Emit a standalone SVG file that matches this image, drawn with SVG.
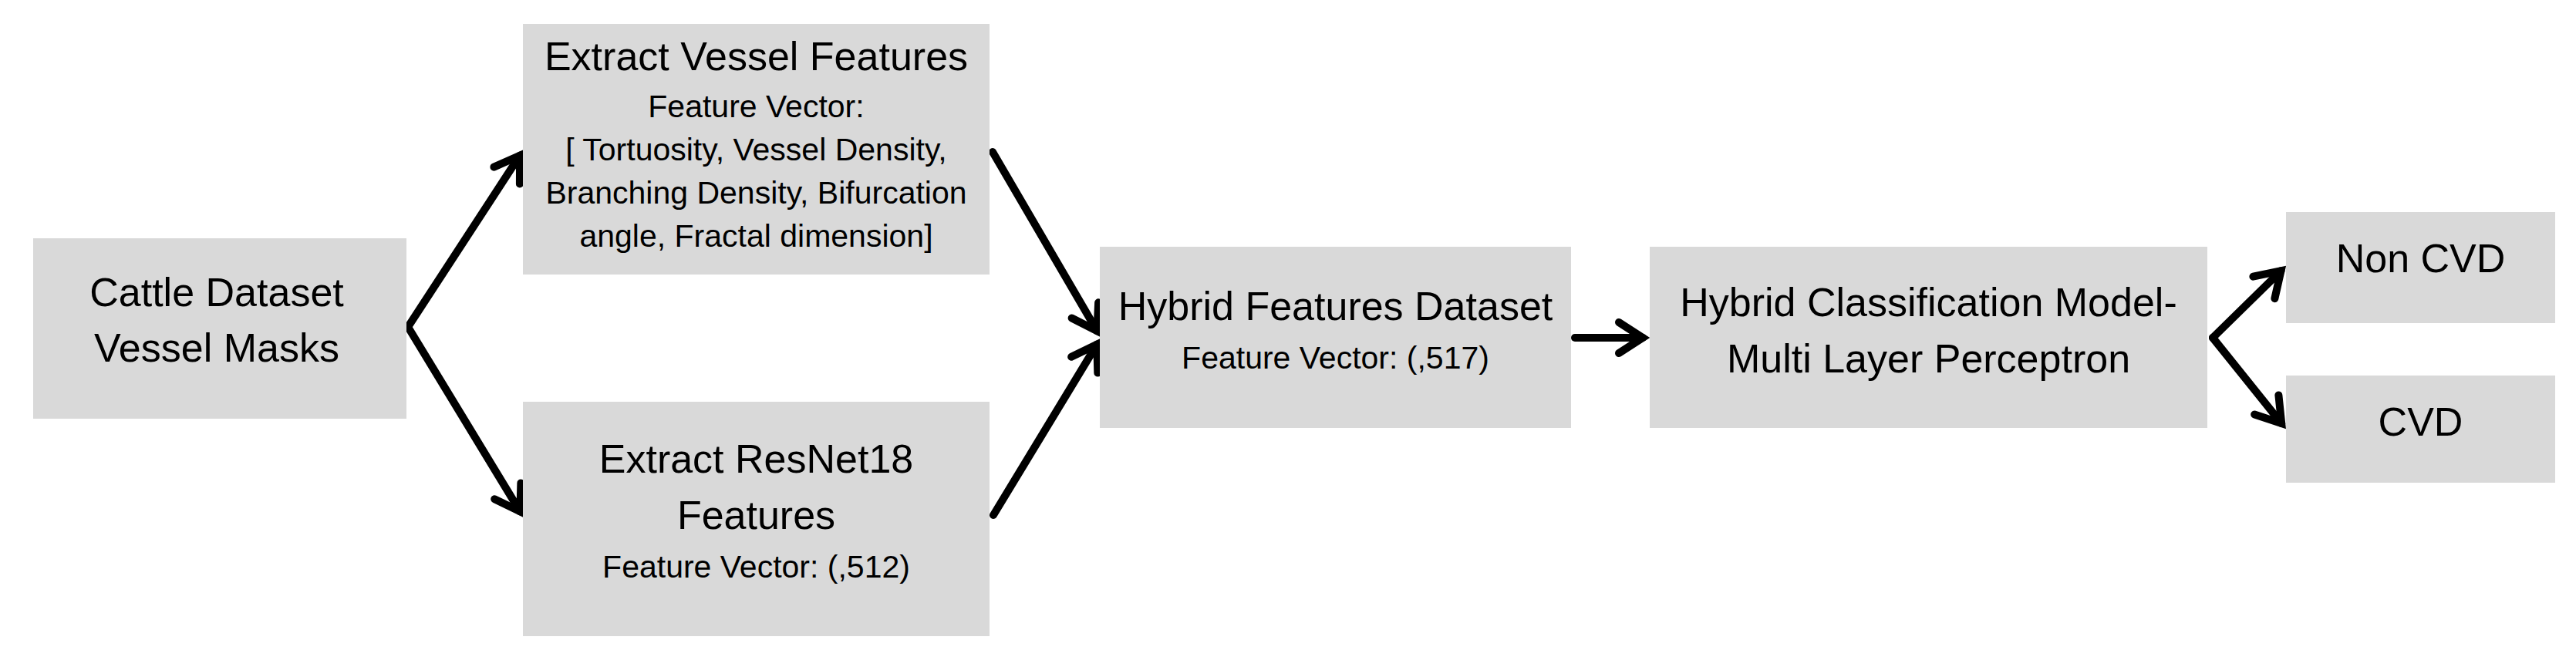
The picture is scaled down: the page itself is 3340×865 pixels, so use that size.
<svg xmlns="http://www.w3.org/2000/svg" width="3340" height="865" viewBox="0 0 3340 865">
<style>
.box{fill:#d9d9d9;stroke:none}
.t{font-family:"Liberation Sans",Arial,Helvetica,sans-serif;fill:#000;text-anchor:middle}
.lg{font-size:52px}
.sm{font-size:41px}
.conn{fill:none;stroke:#000;stroke-width:10;stroke-linecap:round;marker-end:url(#arr)}
</style>
<defs>
<marker id="arr" markerUnits="userSpaceOnUse" viewBox="-50 -35 70 70" markerWidth="70" markerHeight="70" refX="0" refY="0" orient="auto">
<path d="M-31,-20 L0,0 L-31,20" fill="none" stroke="#000" stroke-width="10" stroke-linecap="round" stroke-linejoin="miter" stroke-miterlimit="10"/>
</marker>
</defs>
<rect width="3340" height="865" fill="#fff"/>
<g id="connectors">
<path class="conn" d="M529,424 L674.1,201.6"/>
<path class="conn" d="M529,424 L674.4,663.3"/>
<path class="conn" d="M1287,197 L1422.5,429.2"/>
<path class="conn" d="M1288,668 L1422.3,446.7"/>
<path class="conn" d="M2042,438 L2130,438"/>
<path class="conn" d="M2869,438 L2957.5,351.2"/>
<path class="conn" d="M2869,438 L2958.2,549.1"/>
</g>
<g id="cattle">
<rect class="box" x="43" y="309" width="484" height="234"/>
<text class="t lg" x="281" y="397">Cattle Dataset</text>
<text class="t lg" x="281" y="469">Vessel Masks</text>
</g>
<g id="vessel">
<rect class="box" x="678" y="31" width="605" height="325"/>
<text class="t lg" x="980.5" y="91">Extract Vessel Features</text>
<text class="t sm" x="980.5" y="152">Feature Vector:</text>
<text class="t sm" x="980.5" y="208">[ Tortuosity, Vessel Density,</text>
<text class="t sm" x="980.5" y="264">Branching Density, Bifurcation</text>
<text class="t sm" x="980.5" y="320">angle, Fractal dimension]</text>
</g>
<g id="resnet">
<rect class="box" x="678" y="521" width="605" height="304"/>
<text class="t lg" x="980.5" y="613">Extract ResNet18</text>
<text class="t lg" x="980.5" y="686">Features</text>
<text class="t sm" x="980.5" y="749">Feature Vector: (,512)</text>
</g>
<g id="hybrid">
<rect class="box" x="1426" y="320" width="611" height="235"/>
<text class="t lg" x="1731.5" y="415">Hybrid Features Dataset</text>
<text class="t sm" x="1731.5" y="478">Feature Vector: (,517)</text>
</g>
<g id="mlp">
<rect class="box" x="2139" y="320" width="723" height="235"/>
<text class="t lg" x="2500.5" y="410">Hybrid Classification Model-</text>
<text class="t lg" x="2500.5" y="483">Multi Layer Perceptron</text>
</g>
<g id="noncvd">
<rect class="box" x="2964" y="275" width="349" height="144"/>
<text class="t lg" x="3138.5" y="353">Non CVD</text>
</g>
<g id="cvd">
<rect class="box" x="2964" y="487" width="349" height="139"/>
<text class="t lg" x="3138.5" y="565">CVD</text>
</g>
</svg>
